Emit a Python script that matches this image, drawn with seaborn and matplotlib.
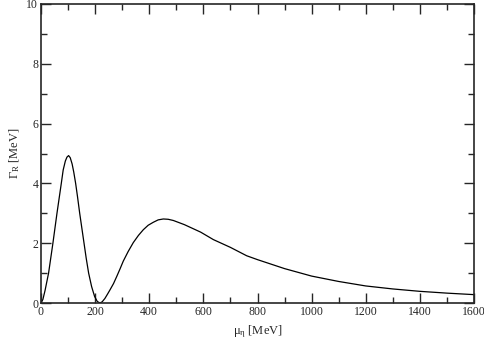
import matplotlib
matplotlib.use("Agg")
import matplotlib.pyplot as plt
import seaborn as sns
import pandas as pd
from matplotlib.ticker import MultipleLocator

# values
mu_eta = [0, 7, 15, 28, 44, 59, 67, 75, 82, 90, 96, 102, 108, 115, 121, 128, 135, 143, 151,
          159, 167, 176, 187, 198, 208, 218, 226, 236, 246, 255, 268, 280, 292, 304, 322,
          341, 360, 378, 396, 415, 433, 452, 470, 489, 530, 590, 637, 700, 760, 800,
          900, 1000, 1100, 1200, 1300, 1400, 1500, 1600]
gamma_r = [0, 0.12, 0.42, 1.0, 2.0, 3.0, 3.5, 4.0, 4.45, 4.75, 4.88, 4.93, 4.86, 4.65, 4.38,
           4.0, 3.55, 3.0, 2.5, 2.0, 1.5, 1.0, 0.55, 0.22, 0.05, 0.0, 0.04, 0.15, 0.3, 0.44,
           0.65, 0.89, 1.14, 1.4, 1.72, 2.02, 2.26, 2.45, 2.6, 2.70, 2.78, 2.81, 2.8, 2.76,
           2.62, 2.37, 2.12, 1.86, 1.58, 1.45, 1.15, 0.9, 0.72, 0.57, 0.47, 0.39, 0.33, 0.28]

df = pd.DataFrame({"mu": mu_eta, "gamma": gamma_r})

sns.set_style("ticks")
plt.rcParams["font.family"] = ["Liberation Serif", "DejaVu Serif"]
plt.rcParams["mathtext.fontset"] = "custom"
plt.rcParams["mathtext.rm"] = "Liberation Serif"
plt.rcParams["mathtext.it"] = "Liberation Serif:italic"

fig = plt.figure(figsize=(4.85, 3.46), dpi=100)
ax = fig.add_axes([41 / 485, 43 / 346, 433 / 485, 299 / 346])

sns.lineplot(data=df, x="mu", y="gamma", ax=ax, color="black", linewidth=0.9)

ax.set_xlim(0, 1600)
ax.set_ylim(0, 10)
ax.xaxis.set_major_locator(MultipleLocator(200))
ax.xaxis.set_minor_locator(MultipleLocator(100))
ax.yaxis.set_major_locator(MultipleLocator(2))
ax.yaxis.set_minor_locator(MultipleLocator(1))
ax.tick_params(which="both", direction="in", top=True, right=True, labelsize=8.5, width=1.0, pad=2)
ax.tick_params(which="major", length=7)
ax.tick_params(which="minor", length=4)
for sp in ax.spines.values():
    sp.set_linewidth(1.2)

ax.set_xlabel("μ$_{\\rm η}$ [MeV]", fontsize=9, labelpad=4)
ax.set_ylabel("Γ$_{\\rm R}$ [MeV]", fontsize=9, labelpad=3)

fig.savefig("out.png", dpi=100)
